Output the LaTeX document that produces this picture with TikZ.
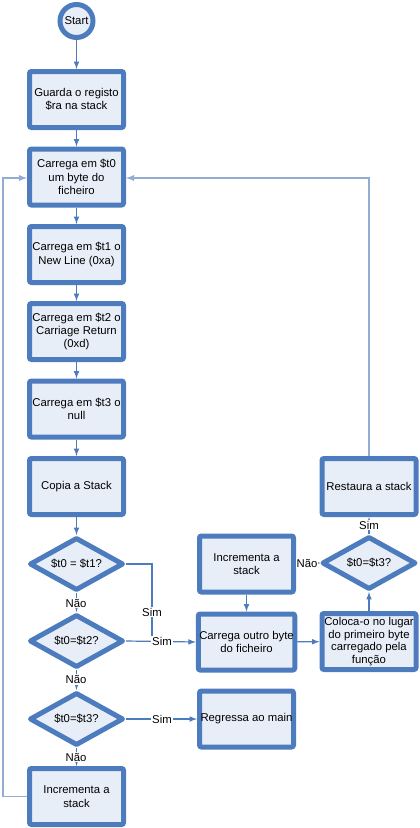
\documentclass[tikz,border=0pt]{standalone}
\usepackage{fontspec}
\setmainfont{Liberation Sans}
\usetikzlibrary{arrows,shapes.geometric}
\definecolor{boxblue}{RGB}{76,124,190}
\definecolor{boxfill}{RGB}{232,238,248}
\definecolor{loopblue}{RGB}{146,172,210}

\begin{document}
\begin{tikzpicture}[x=0.75pt,y=0.75pt,yscale=-1,xscale=1,
  txt/.style={font=\fontsize{8.5}{10}\selectfont},
  procbox/.style={txt,draw=boxblue,fill=boxfill,line width=3.75pt,rounded corners=1.5pt,minimum width=70.5pt,minimum height=42pt,inner sep=0.75pt,align=center},
  decision/.style={txt,diamond,draw=boxblue,fill=boxfill,line width=3.75pt,line join=round,minimum width=70.5pt,minimum height=39.75pt,inner sep=0pt,aspect=1.8},
  startnode/.style={txt,circle,draw=boxblue,fill=boxfill,line width=3.75pt,minimum size=24.75pt,inner sep=0pt},
  flow/.style={draw=boxblue,line width=0.9pt,-latex},
  loopline/.style={draw=loopblue,line width=1.1pt,-latex},
  lbl/.style={txt,fill=white,inner sep=0.75pt}
]
\useasboundingbox (0,0) rectangle (420,828);

%Shape: Circle
\node [startnode] (start) at (76.5,21) {Start};
%Shape: Rectangle [left column]
\node [procbox] (guarda) at (76.5,99.5) {Guarda o registo\\\$ra na stack};
\node [procbox] (load0) at (76.5,177) {Carrega em \$t0\\um byte do\\ficheiro};
\node [procbox] (load1) at (76.5,254.5) {Carrega em \$t1 o\\New Line (0xa)};
\node [procbox] (load2) at (76.5,331.5) {Carrega em \$t2 o\\Carriage Return\\(0xd)};
\node [procbox] (load3) at (76.5,409) {Carrega em \$t3 o\\null};
\node [procbox] (copia) at (76.5,486.5) {Copia a Stack};
%Shape: Diamond
\node [decision] (ift1) at (76.5,564) {\$t0 = \$t1?};
\node [decision] (ift2) at (76.5,641) {\$t0=\$t2?};
\node [decision] (ift3) at (76.5,719) {\$t0=\$t3?};
\node [procbox] (incleft) at (76.5,796.5) {Incrementa a\\stack};
%Shape: Rectangle [middle column]
\node [procbox] (incmid) at (246.5,564) {Incrementa a\\stack};
\node [procbox] (nextbyte) at (246.5,642) {Carrega outro byte\\do ficheiro};
\node [procbox] (regressa) at (246.5,719) {Regressa ao main};
%Shape: Rectangle [right column]
\node [procbox] (restaura) at (369,486.5) {Restaura a stack};
\node [decision] (ift3b) at (369,563) {\$t0=\$t3?};
\node [procbox,font=\fontsize{8.5}{9.4}\selectfont] (coloca) at (369,641.5) {Coloca-o no lugar\\do primeiro byte\\carregado pela\\função};

%Coordinates of corners
\coordinate (simjoin) at (152,641);
\coordinate (lcorner1) at (3,796.5);
\coordinate (lcorner2) at (3,178);
\coordinate (rcorner) at (369,178);

%Straight Lines
\draw [flow] (start) -- (guarda);
\draw [flow] (guarda) -- (load0);
\draw [flow] (load0) -- (load1);
\draw [flow] (load1) -- (load2);
\draw [flow] (load2) -- (load3);
\draw [flow] (load3) -- (copia);
\draw [flow] (copia) -- (ift1);
\draw [flow] (ift1) -- (ift2);
\draw [flow] (ift2) -- (ift3);
\draw [flow] (ift3) -- (incleft);
\draw [draw=boxblue,line width=0.9pt] (ift1.east) -| (simjoin);
\draw [flow] (ift2.east) -- (nextbyte.west);
\draw [flow] (ift3.east) -- (regressa.west);
\draw [flow] (incmid) -- (nextbyte);
\draw [flow] (nextbyte) -- (coloca);
\draw [flow] (coloca) -- (ift3b);
\draw [flow] (ift3b) -- (restaura);
\draw [flow] (ift3b.west) -- (incmid.east);
\draw [loopline] (incleft.west) -- (lcorner1) -- (lcorner2) -- (load0.west |- lcorner2);
\draw [loopline] (restaura.north) -- (rcorner) -- (load0.east |- rcorner);

% Text Node
\node [lbl] (no1) at (76,603) {Não};
\node [lbl] (no2) at (76,679.5) {Não};
\node [lbl] (no3) at (76,757) {Não};
\node [lbl] (yes1) at (152,612) {Sim};
\node [lbl] (yes2) at (162,641) {Sim};
\node [lbl] (yes3) at (162,719) {Sim};
\node [lbl] (no4) at (307,563) {Não};
\node [lbl] (yes4) at (369,525) {Sim};

\end{tikzpicture}
\end{document}
